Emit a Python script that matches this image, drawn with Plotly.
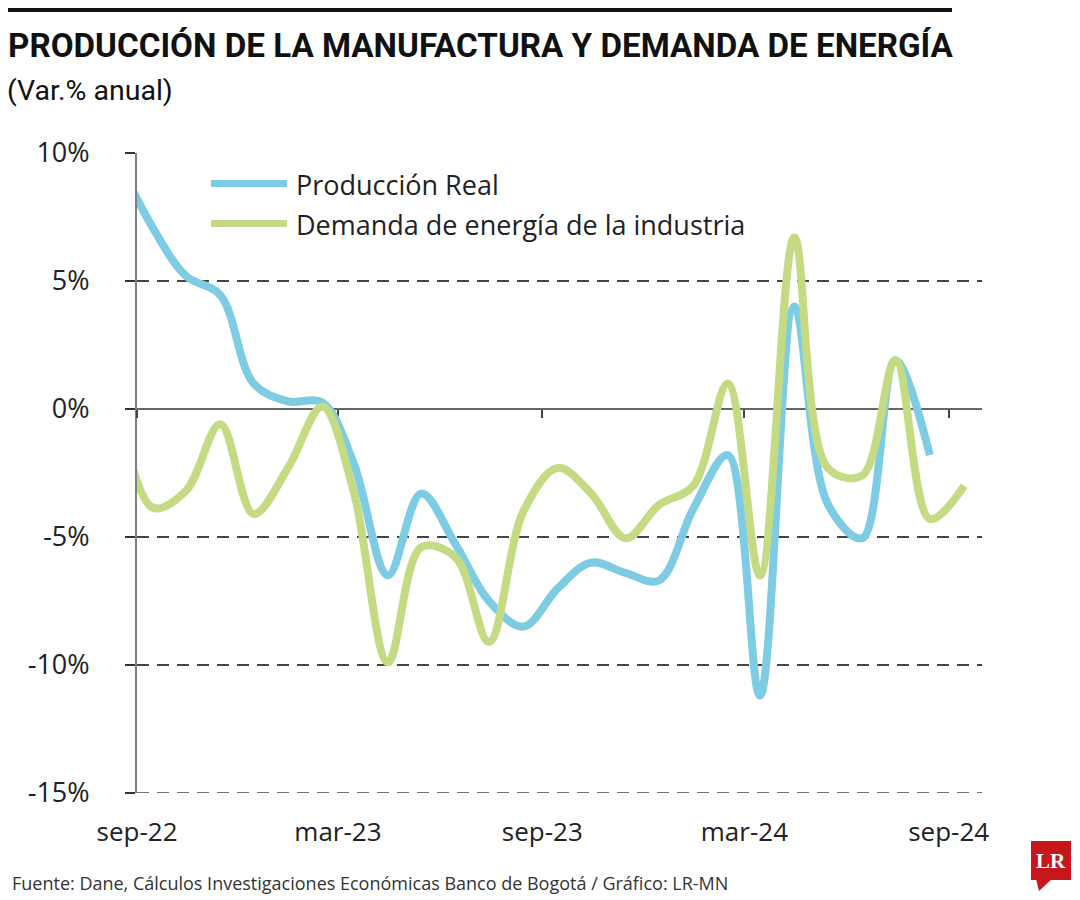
import plotly.graph_objects as go

# ---------------- data (monthly, plotted mid-month) ----------------
months = ["2022-08-15", "2022-09-15", "2022-10-15", "2022-11-15", "2022-12-15",
          "2023-01-15", "2023-02-15", "2023-03-15", "2023-04-15", "2023-05-15",
          "2023-06-15", "2023-07-15", "2023-08-15", "2023-09-15", "2023-10-15",
          "2023-11-15", "2023-12-15", "2024-01-15", "2024-02-15", "2024-03-15",
          "2024-04-15", "2024-05-15", "2024-06-15", "2024-07-15", "2024-08-15",
          "2024-09-15"]

produccion_real = [9.7, 7.1, 5.2, 4.45, 1.0, 0.3, 0.25, -2.1, -6.5, -3.3,
                   -5.3, -7.5, -8.5, -7.0, -6.0, -6.4, -6.7, -3.9, -1.8, -11.2,
                   4.0, -3.7, -5.05, 1.9, -1.8]

demanda_energia = [0.3, -3.85, -3.2, -0.6, -4.1, -2.3, 0.1, -3.2, -9.9, -5.4,
                   -5.8, -9.1, -4.0, -2.3, -3.3, -5.05, -3.75, -3.0, 1.0, -6.5,
                   6.7, -2.3, -2.6, 1.9, -4.3, -3.0]

x_tick_vals = ["2022-09-01", "2023-03-01", "2023-09-01", "2024-03-01", "2024-09-01"]
x_tick_text = ["sep-22", "mar-23", "sep-23", "mar-24", "sep-24"]
y_tick_vals = [10, 5, 0, -5, -10, -15]
y_tick_text = ["10%", "5%", "0%", "-5%", "-10%", "-15%"]

series_names = ["Producción Real", "Demanda de energía de la industria"]
title_text = "PRODUCCIÓN DE LA MANUFACTURA Y DEMANDA DE ENERGÍA"
subtitle_text = "(Var.% anual)"
source_text = "Fuente: Dane, Cálculos Investigaciones Económicas Banco de Bogotá / Gráfico: LR-MN"

# ---------------- style ----------------
BLUE = "#7ECCE4"
GREEN = "#C5DB83"
GRID = "#444444"
AXIS = "#808080"
FONT = "Open Sans"
DASH = "12px,8px"

# page body has an 8px margin: figure is placed at (8, 8) on screen
OFF = 8
W, H = 1080 - OFF, 900 - OFF
# plot area in screen pixels
PL, PR, PT, PB = 137, 982, 153, 793
PW, PH = PR - PL, PB - PT
margin = dict(l=PL - OFF, r=W - (PR - OFF), t=PT - OFF, b=H - (PB - OFF))


def px(xs):
    return (xs - PL) / PW


def py(ys):
    return (PB - ys) / PH


fig = go.Figure()

fig.add_trace(go.Scatter(
    x=months[:len(produccion_real)], y=produccion_real, mode="lines",
    name=series_names[0], line=dict(color=BLUE, width=8, shape="spline", smoothing=1.0),
    showlegend=False))
fig.add_trace(go.Scatter(
    x=months[:len(demanda_energia)], y=demanda_energia, mode="lines",
    name=series_names[1], line=dict(color=GREEN, width=8, shape="spline", smoothing=1.0),
    showlegend=False))
# empty trace to activate the zero-line axis with tick marks
fig.add_trace(go.Scatter(x=[], y=[], xaxis="x2", yaxis="y", showlegend=False,
                         hoverinfo="skip"))

fig.update_layout(
    width=W, height=H,
    margin=margin,
    paper_bgcolor="white", plot_bgcolor="white",
    font=dict(family=FONT, color="#222222"),
    xaxis=dict(
        type="date", range=["2022-09-01", "2024-10-01"],
        tickvals=x_tick_vals, ticktext=x_tick_text,
        showgrid=False, zeroline=False, showline=False, ticks="",
        tickfont=dict(size=26, color="#222222"), ticklabelstandoff=21,
    ),
    xaxis2=dict(
        type="date", matches="x", overlaying="x", anchor="free", position=0.6,
        tickvals=x_tick_vals, showticklabels=False, showgrid=False, zeroline=False,
        showline=True, linecolor="#666666", linewidth=1.5,
        ticks="outside", ticklen=8, tickwidth=1.5, tickcolor="#444444",
        layer="below traces",
    ),
    yaxis=dict(
        range=[-15, 10], tickvals=y_tick_vals, ticktext=y_tick_text,
        showgrid=True, gridcolor=GRID, gridwidth=1.5, griddash=DASH,
        zeroline=False, showline=True, linecolor=AXIS, linewidth=2,
        ticks="outside", ticklen=10, tickwidth=1.5, tickcolor="#333333",
        tickfont=dict(size=27, color="#222222"), ticklabelstandoff=30,
        layer="below traces",
    ),
)

shapes = [
    # bottom dashed gridline at the lowest tick (edge of plot area)
    dict(type="line", xref="paper", yref="y", x0=0, x1=1, y0=y_tick_vals[-1], y1=y_tick_vals[-1],
         line=dict(color=GRID, width=1.5, dash=DASH), layer="below"),
    # top black bar
    dict(type="rect", xref="paper", yref="paper", x0=px(8), x1=px(952), y0=py(12), y1=py(5),
         fillcolor="#111111", line=dict(width=0)),
    # legend swatches
    dict(type="line", xref="paper", yref="paper", x0=px(211), x1=px(287), y0=py(183.5), y1=py(183.5),
         line=dict(color=BLUE, width=7)),
    dict(type="line", xref="paper", yref="paper", x0=px(211), x1=px(287), y0=py(223.5), y1=py(223.5),
         line=dict(color=GREEN, width=7)),
    # LR logo
    dict(type="rect", xref="paper", yref="paper", x0=px(1031), x1=px(1071), y0=py(880), y1=py(841),
         fillcolor="#C8161D", line=dict(width=0)),
    dict(type="path", xref="paper", yref="paper",
         path=f"M {px(1036)} {py(879)} L {px(1052)} {py(879)} L {px(1039)} {py(891)} Z",
         fillcolor="#C8161D", line=dict(width=0)),
]
fig.update_layout(shapes=shapes)

annotations = [
    dict(text=f"<b>{title_text}</b>", x=px(6), y=py(46), xref="paper", yref="paper",
         xanchor="left", yanchor="middle", showarrow=False,
         font=dict(family="Roboto", size=33.2, color="#111111")),
    dict(text=subtitle_text, x=px(5), y=py(91), xref="paper", yref="paper",
         xanchor="left", yanchor="middle", showarrow=False,
         font=dict(family="Roboto", size=28.5, color="#111111")),
    dict(text=series_names[0], x=px(294), y=py(184), xref="paper", yref="paper",
         xanchor="left", yanchor="middle", showarrow=False,
         font=dict(family=FONT, size=27, color="#222222")),
    dict(text=series_names[1], x=px(294), y=py(224), xref="paper", yref="paper",
         xanchor="left", yanchor="middle", showarrow=False,
         font=dict(family=FONT, size=27, color="#222222")),
    dict(text=source_text, x=px(10), y=py(883), xref="paper", yref="paper",
         xanchor="left", yanchor="middle", showarrow=False,
         font=dict(family=FONT, size=18, color="#333333")),
    dict(text="<b>LR</b>", x=px(1051), y=py(861), xref="paper", yref="paper",
         xanchor="center", yanchor="middle", showarrow=False,
         font=dict(family="Liberation Serif", size=21, color="white")),
]
fig.update_layout(annotations=annotations)

fig.write_html("out.html")
